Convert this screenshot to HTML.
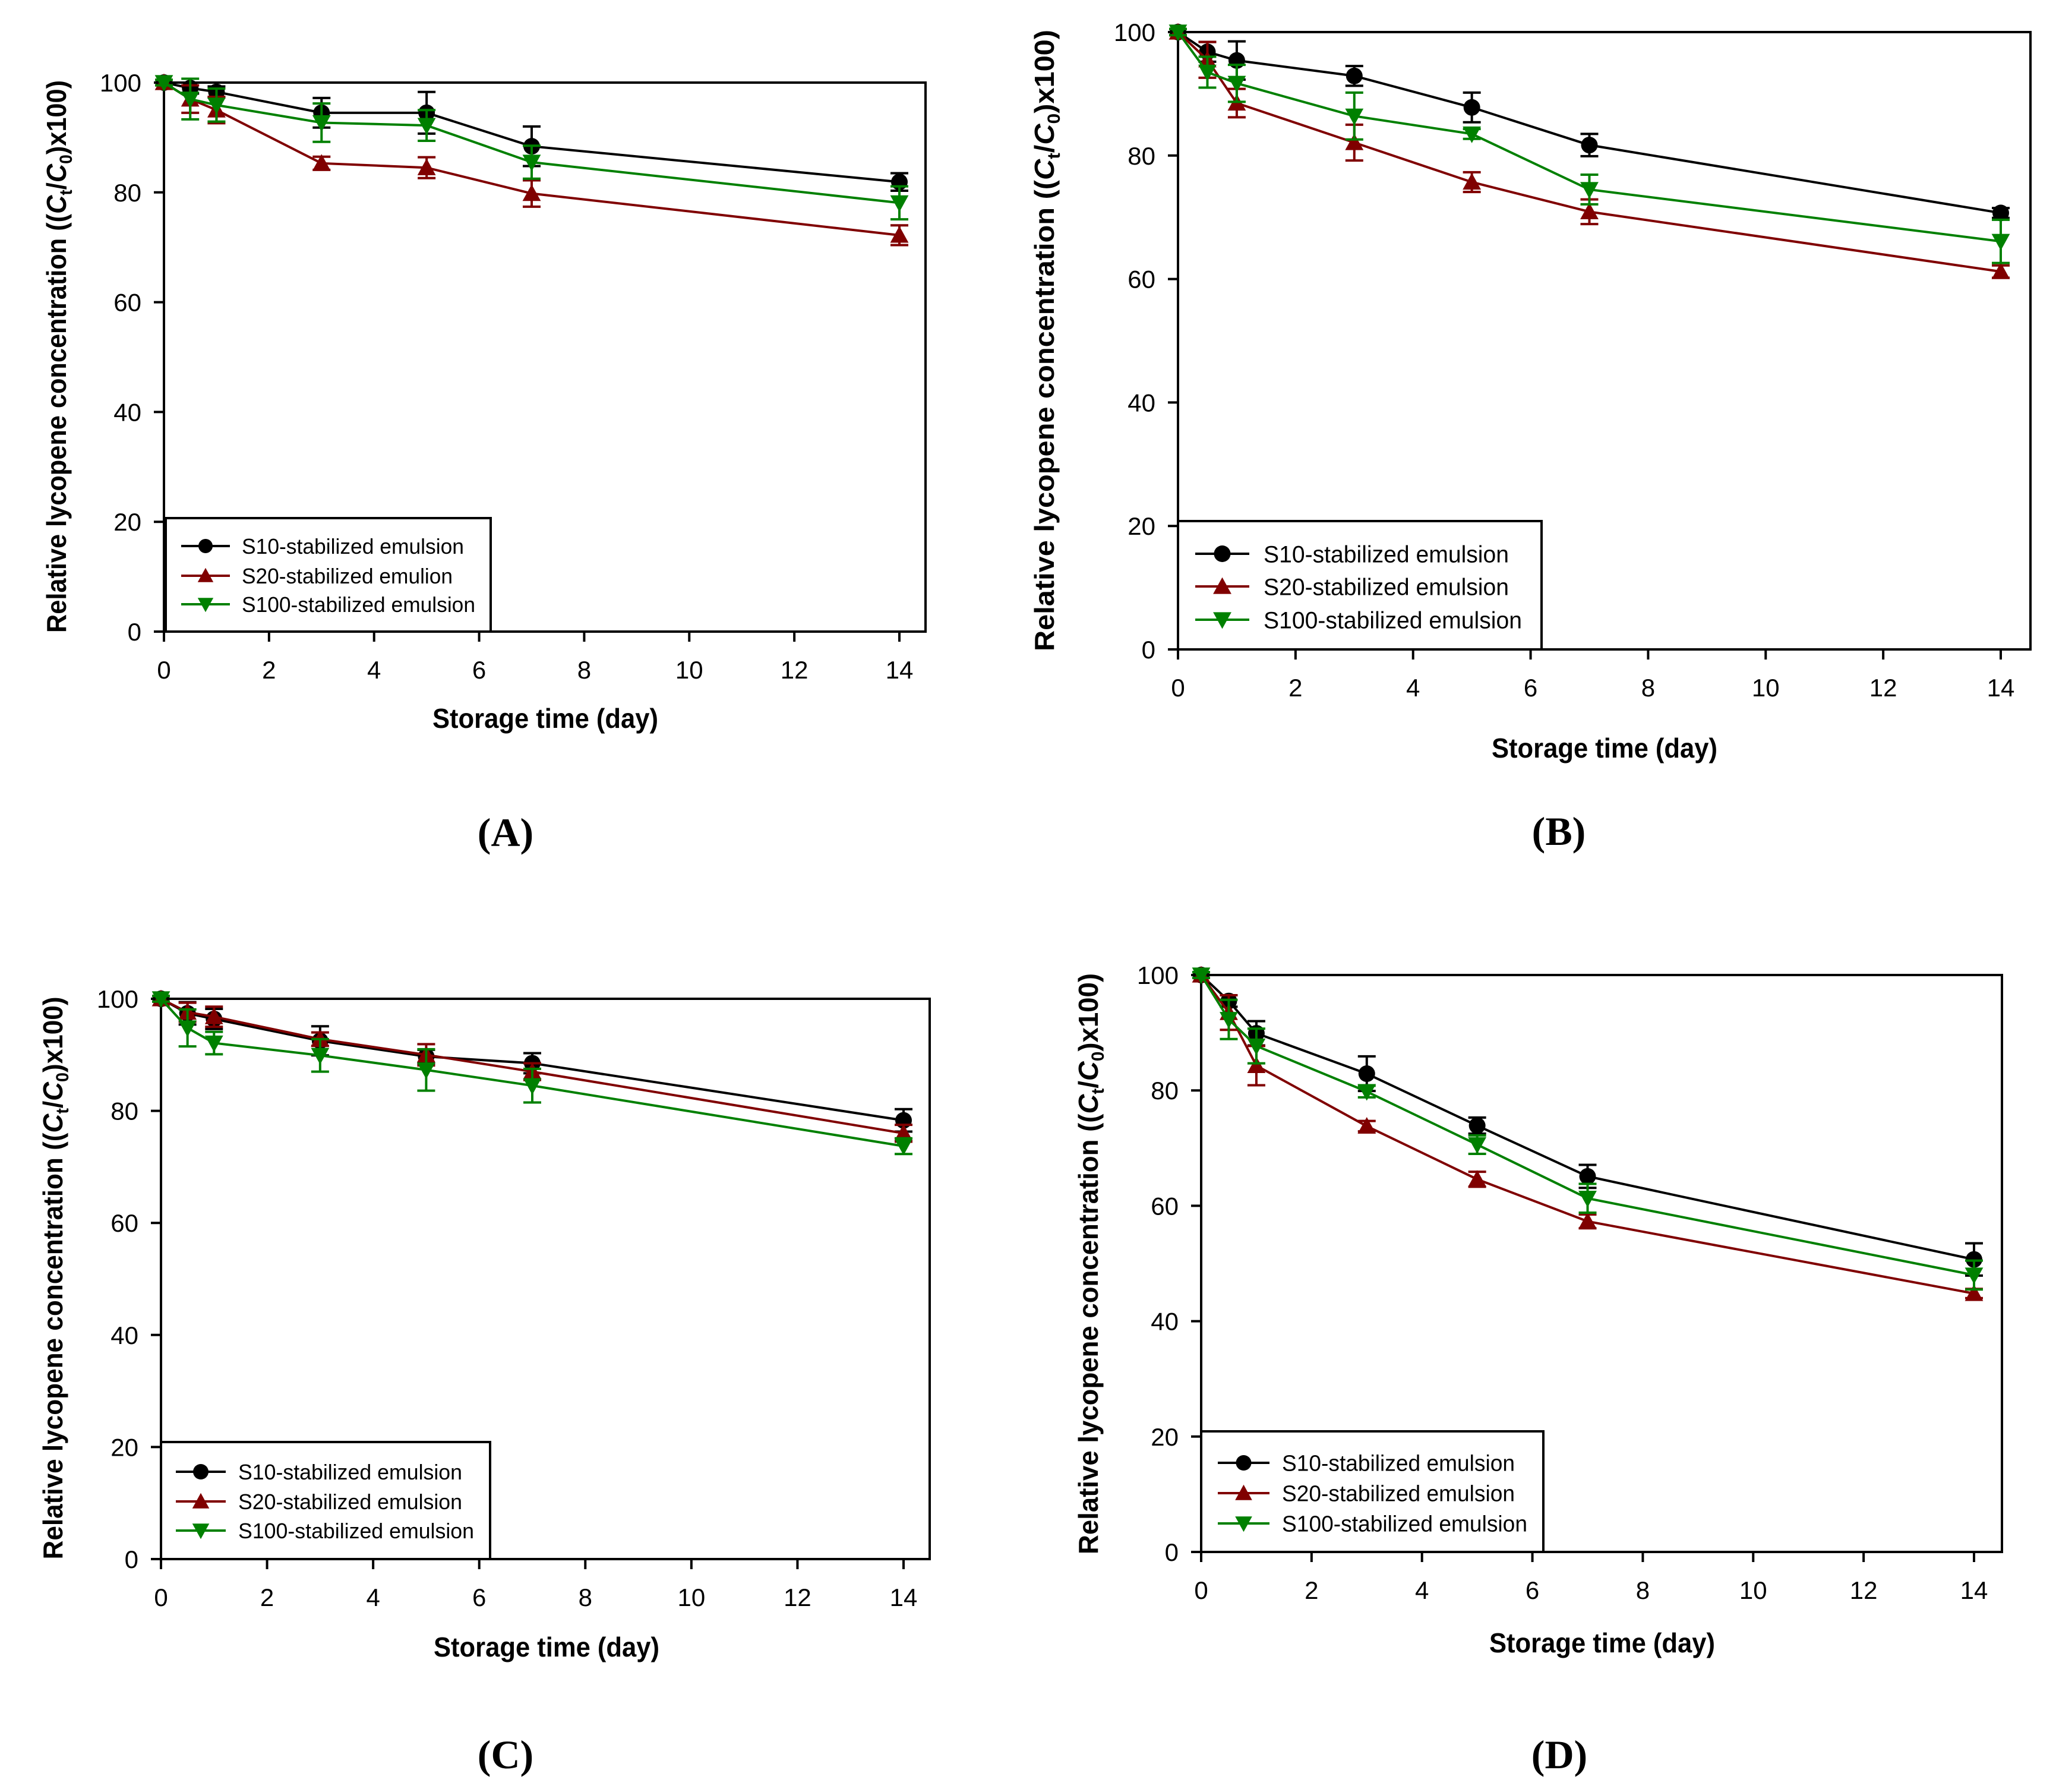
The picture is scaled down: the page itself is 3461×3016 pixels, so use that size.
<!DOCTYPE html>
<html><head><meta charset="utf-8">
<style>
html,body{margin:0;padding:0;background:#fff;}
svg{display:block;}
text{font-family:"Liberation Sans",Arial,sans-serif;}
</style></head>
<body>
<svg id="fig" width="3461" height="3016" viewBox="0 0 3461 3016" xmlns="http://www.w3.org/2000/svg"></svg>
<script>
const days = [0, 0.5, 1, 3, 5, 7, 14];
const xTicks = [0, 2, 4, 6, 8, 10, 12, 14];
const yTicks = [0, 20, 40, 60, 80, 100];
const seriesNames = ["S10-stabilized emulsion", "S20-stabilized emulsion", "S100-stabilized emulsion"];
const seriesNamesA = ["S10-stabilized emulsion", "S20-stabilized emulion", "S100-stabilized emulsion"];

const a_s10 = [100, 99, 98.3, 94.5, 94.5, 88.4, 81.9];
const a_s10e = [0.5, 1, 1, 2.7, 3.8, 3.6, 1.6];
const a_s20 = [100, 97, 95, 85.3, 84.5, 79.8, 72.2];
const a_s20e = [0.5, 2.5, 2.4, 1.2, 1.9, 2.4, 1.8];
const a_s100 = [100, 97, 95.9, 92.7, 92.2, 85.5, 78.1];
const a_s100e = [0.5, 3.7, 3, 3.5, 2.8, 3, 3];

const b_s10 = [100, 96.8, 95.4, 92.9, 87.8, 81.7, 70.7];
const b_s10e = [0.5, 1.6, 3.1, 1.6, 2.4, 1.8, 0.8];
const b_s20 = [100, 95.5, 88.5, 82.1, 75.7, 70.9, 61.2];
const b_s20e = [0.5, 2.9, 2.3, 2.9, 1.6, 2, 1];
const b_s100 = [100, 93.5, 91.7, 86.4, 83.5, 74.5, 66.1];
const b_s100e = [0.5, 2.5, 3, 3.8, 0.8, 2.4, 3.5];

const c_s10 = [100, 97.4, 96.4, 92.5, 89.7, 88.5, 78.3];
const c_s10e = [0.5, 2, 1.8, 2.6, 1.2, 1.8, 2];
const c_s20 = [100, 97.6, 96.8, 92.8, 90, 87, 76];
const c_s20e = [0.5, 1.7, 1.8, 1.2, 1.9, 1.5, 1.5];
const c_s100 = [100, 94.8, 92.1, 89.9, 87.3, 84.5, 73.7];
const c_s100e = [0.5, 3.3, 2, 2.9, 3.7, 3, 1.4];

const d_s10 = [100, 95.5, 89.9, 82.9, 73.9, 65.1, 50.7];
const d_s10e = [0.5, 1, 2.1, 3, 1.4, 2, 2.8];
const d_s20 = [100, 93.5, 84.3, 73.8, 64.6, 57.3, 44.8];
const d_s20e = [0.5, 3, 3.4, 0.9, 1.3, 1.2, 0.8];
const d_s100 = [100, 92.3, 87.7, 79.8, 70.6, 61.3, 48];
const d_s100e = [0.5, 3.4, 3, 1, 1.6, 2.5, 2.5];

const NS = "http://www.w3.org/2000/svg";
const svg = document.getElementById("fig");
const colors = ["#000000", "#800000", "#008000"];
const shapes = ["circle", "up", "down"];

function mk(tag, attrs, parent) {
  const e = document.createElementNS(NS, tag);
  for (const k in attrs) e.setAttribute(k, attrs[k]);
  (parent || svg).appendChild(e);
  return e;
}

function marker(g, shape, cx, cy, col, r) {
  let m;
  if (shape === "circle") {
    m = mk("circle", {cx: cx, cy: cy, r: r, fill: col}, g);
  } else if (shape === "up") {
    m = mk("polygon", {points: `${cx-r*1.1},${cy+r*0.9} ${cx+r*1.1},${cy+r*0.9} ${cx},${cy-r*1.1}`, fill: col}, g);
  } else {
    m = mk("polygon", {points: `${cx-r*1.1},${cy-r*0.9} ${cx+r*1.1},${cy-r*0.9} ${cx},${cy+r*1.1}`, fill: col}, g);
  }
  return m;
}

function panel(p) {
  const g = mk("g", {});
  
  
  const xs = v => p.L + (v / 14) * (p.x14 - p.L);
  const ys = v => p.B - (v / 100) * (p.B - p.T);

  // frame
  const frame = mk("rect", {x: p.L, y: p.T, width: p.R - p.L, height: p.B - p.T, fill: "none", stroke: "#000", "stroke-width": 4}, g);
  
  

  // x ticks
  xTicks.forEach(t => {
    const x = xs(t);
    const tk = mk("line", {x1: x, y1: p.B, x2: x, y2: p.B + 17, stroke: "#000", "stroke-width": 4}, g);
    
    
    const tl = mk("text", {x: x, y: p.B + 79, "font-size": 42, "text-anchor": "middle"}, g);
    tl.textContent = t;
    
    
  });
  // y ticks
  yTicks.forEach(t => {
    const y = ys(t);
    const tk = mk("line", {x1: p.L - 17, y1: y, x2: p.L, y2: y, stroke: "#000", "stroke-width": 4}, g);
    
    
    const tl = mk("text", {x: p.L - 38, y: y + 15, "font-size": 42, "text-anchor": "end"}, g);
    tl.textContent = t;
    
    
  });

  // legend box
  const lg = mk("g", {}, g);
  
  
  mk("rect", {x: p.lg.x1, y: p.lg.top, width: p.lg.x2 - p.lg.x1, height: p.B - p.lg.top, fill: "#fff", stroke: "#000", "stroke-width": 4}, lg);

  // series
  p.series.forEach((s, i) => {
    const sg = mk("g", {}, g);
    
    
    const col = colors[i];
    s.v.forEach((v, j) => {
      const x = xs(days[j]);
      const y1 = ys(v + s.e[j]), y2 = ys(v - s.e[j]);
      const eb = mk("path", {d: `M${x},${y1}V${y2}M${x-15},${y1}H${x+15}M${x-15},${y2}H${x+15}`, stroke: col, "stroke-width": 4, fill: "none"}, sg);
      
      
    });
    const pts = s.v.map((v, j) => `${xs(days[j])},${ys(v)}`).join(" ");
    const pl = mk("polyline", {points: pts, fill: "none", stroke: col, "stroke-width": 4}, sg);
    
    
    s.v.forEach((v, j) => {
      const m = marker(sg, shapes[i], xs(days[j]), ys(v), col, 14);
      
      
    });
    // legend entry
    const ly = p.lg.rows[i];
    const le = mk("g", {}, lg);
    
    
    mk("line", {x1: p.lg.l1, y1: ly, x2: p.lg.l2, y2: ly, stroke: col, "stroke-width": 4}, le);
    marker(le, shapes[i], (p.lg.l1 + p.lg.l2) / 2, ly, col, p.lg.mr);
    const lt = mk("text", {x: p.lg.tx, y: ly + p.lg.fs * 0.36, "font-size": p.lg.fs, textLength: p.lg.tw[i], lengthAdjust: "spacingAndGlyphs"}, le);
    lt.textContent = p.names[i];
  });

  // axis titles
  const xt = mk("text", {x: p.xt.x, y: p.xt.y + 16, "font-size": 46, "font-weight": "bold", "text-anchor": "middle", textLength: 380, lengthAdjust: "spacingAndGlyphs"}, g);
  xt.textContent = "Storage time (day)";
  
  

  const yt = mk("text", {transform: `translate(${p.yt.x + 16},${p.yt.y}) rotate(-90)`, "font-size": 46, "font-weight": "bold", "text-anchor": "middle", textLength: p.yt.len, lengthAdjust: "spacingAndGlyphs"}, g);
  yt.innerHTML = 'Relative lycopene concentration ((<tspan font-style="italic">C</tspan><tspan font-size="30" dy="10">t</tspan><tspan dy="-10">/</tspan><tspan font-style="italic">C</tspan><tspan font-size="30" dy="10">0</tspan><tspan dy="-10">)x100)</tspan>';
  
  

  const pl = mk("text", {x: p.pl.x, y: p.pl.y + 24, "font-size": 68, "font-weight": "bold", "text-anchor": "middle", style: 'font-family:"Liberation Serif",serif'}, g);
  pl.textContent = "(" + p.id + ")";
  
  
}

panel({id: "A", L: 276, T: 139, R: 1558, B: 1063, x14: 1514,
  series: [{v: a_s10, e: a_s10e}, {v: a_s20, e: a_s20e}, {v: a_s100, e: a_s100e}], names: seriesNamesA,
  lg: {x1: 279, x2: 826, top: 872, rows: [919, 969, 1017], l1: 305, l2: 387, tx: 407, fs: 36, mr: 12, tw: [374, 355, 393]},
  xt: {x: 918, y: 1209}, yt: {x: 95, y: 600, len: 930}, pl: {x: 851, y: 1400}});

panel({id: "B", L: 1983, T: 54, R: 3418, B: 1093, x14: 3368,
  series: [{v: b_s10, e: b_s10e}, {v: b_s20, e: b_s20e}, {v: b_s100, e: b_s100e}], names: seriesNames,
  lg: {x1: 1983, x2: 2595, top: 877, rows: [932, 987, 1043], l1: 2012, l2: 2103, tx: 2127, fs: 40, mr: 14, tw: [413, 413, 435]},
  xt: {x: 2701, y: 1259}, yt: {x: 1758, y: 573, len: 1046}, pl: {x: 2624, y: 1398}});

panel({id: "C", L: 271, T: 1681, R: 1565, B: 2624, x14: 1521,
  series: [{v: c_s10, e: c_s10e}, {v: c_s20, e: c_s20e}, {v: c_s100, e: c_s100e}], names: seriesNames,
  lg: {x1: 271, x2: 825, top: 2427, rows: [2477, 2527, 2576], l1: 296, l2: 380, tx: 401, fs: 36, mr: 13, tw: [377, 377, 397]},
  xt: {x: 920, y: 2772}, yt: {x: 89, y: 2151, len: 947}, pl: {x: 851, y: 2952}});

panel({id: "D", L: 2022, T: 1641, R: 3370, B: 2612, x14: 3323,
  series: [{v: d_s10, e: d_s10e}, {v: d_s20, e: d_s20e}, {v: d_s100, e: d_s100e}], names: seriesNames,
  lg: {x1: 2022, x2: 2598, top: 2409, rows: [2462, 2513, 2564], l1: 2050, l2: 2137, tx: 2158, fs: 38, mr: 13, tw: [392, 392, 413]},
  xt: {x: 2697, y: 2765}, yt: {x: 1832, y: 2127, len: 978}, pl: {x: 2625, y: 2952}});
</script>
</body></html>
